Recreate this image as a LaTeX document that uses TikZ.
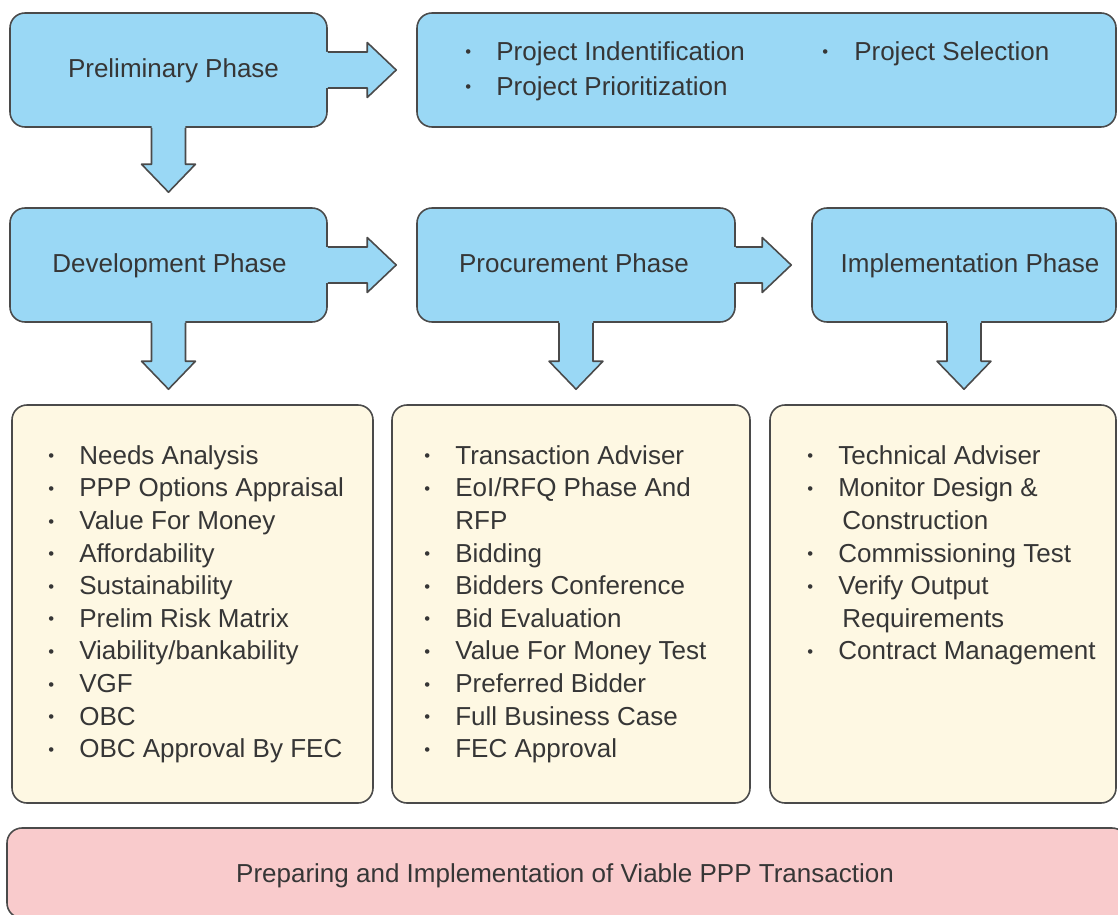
\documentclass[tikz,border=0pt]{standalone}
\usepackage{fontspec}
\setmainfont{Liberation Sans}
\usetikzlibrary{calc,fit}
\definecolor{bluef}{HTML}{9AD8F5}
\definecolor{creamf}{HTML}{FEF8E3}
\definecolor{pinkf}{HTML}{F9CBCC}
\definecolor{edgec}{HTML}{4A4A4A}
\definecolor{txtc}{HTML}{363636}
\newcommand\bul{\raisebox{1.4pt}{\fontsize{9.5}{9.5}\selectfont\textbullet}}
\newcommand\rarr[2]{%
 \fill[bluef] let \p1=(#1.east), \p2=(#2.west) in
  (\x1-1.5pt,\y1+0.36cm) -- (\x2-0.98cm,\y1+0.36cm) -- (\x2-0.98cm,\y1+0.55cm) -- (\x2-0.4cm,\y1)
  -- (\x2-0.98cm,\y1-0.55cm) -- (\x2-0.98cm,\y1-0.36cm) -- (\x1-1.5pt,\y1-0.36cm) -- cycle;
 \draw[arrline] let \p1=(#1.east), \p2=(#2.west) in
  (\x1,\y1+0.36cm) -- (\x2-0.98cm,\y1+0.36cm) -- (\x2-0.98cm,\y1+0.55cm) -- (\x2-0.4cm,\y1)
  -- (\x2-0.98cm,\y1-0.55cm) -- (\x2-0.98cm,\y1-0.36cm) -- (\x1,\y1-0.36cm);
}
\newcommand\darr[2]{%
 \fill[bluef] let \p1=(#1.south), \p2=(#2.north) in
  (\x1-0.34cm,\y1+1.5pt) -- (\x1-0.34cm,\y2+0.86cm) -- (\x1-0.54cm,\y2+0.86cm) -- (\x1,\y2+0.3cm)
  -- (\x1+0.54cm,\y2+0.86cm) -- (\x1+0.34cm,\y2+0.86cm) -- (\x1+0.34cm,\y1+1.5pt) -- cycle;
 \draw[arrline] let \p1=(#1.south), \p2=(#2.north) in
  (\x1-0.34cm,\y1) -- (\x1-0.34cm,\y2+0.86cm) -- (\x1-0.54cm,\y2+0.86cm) -- (\x1,\y2+0.3cm)
  -- (\x1+0.54cm,\y2+0.86cm) -- (\x1+0.34cm,\y2+0.86cm) -- (\x1+0.34cm,\y1);
}
\begin{document}
\begin{tikzpicture}[x=0.02cm,y=-0.02cm,
  font=\fontsize{14.8}{18.55}\selectfont, text=txtc,
  box/.style={rectangle, rounded corners=0.3cm, draw=edgec, line width=0.9pt, inner sep=0pt},
  phase/.style={box, fill=bluef},
  listbox/.style={box, fill=creamf},
  lbl/.style={inner sep=0pt, anchor=base},
  items/.style={inner sep=0pt, anchor=north west},
  arrline/.style={draw=edgec, line width=0.9pt, line join=round}]
\useasboundingbox (0,0) rectangle (1118,915);
\clip (0,0) rectangle (1118,915);

% phase boxes
\node[phase, fit={(10,13) (327,127)}] (prelim) {};
\node[box, fill=bluef, fit={(417,13) (1116,127)}] (top) {};
\node[phase, fit={(10,208) (327,322)}] (dev) {};
\node[phase, fit={(417,208) (735,322)}] (proc) {};
\node[phase, fit={(812,208) (1116,322)}] (impl) {};

% list boxes
\node[listbox, fit={(12,405) (373,803)}] (devbox) {};
\node[listbox, fit={(392,405) (750,803)}] (procbox) {};
\node[listbox, fit={(770,405) (1116,803)}] (implbox) {};
\node[box, fill=pinkf, fit={(7,828) (1127,918)}] (final) {};

% headings
\node[lbl] (prelimtxt) at ($(prelim.center)+(5,7.5)$) {Preliminary Phase};
\node[lbl] (devtxt) at ($(dev.center)+(1,7.5)$) {Development Phase};
\node[lbl] (proctxt) at ($(proc.center)+(-2,7.5)$) {Procurement Phase};
\node[lbl] (impltxt) at ($(impl.center)+(6,7.5)$) {Implementation Phase};
\node[lbl] (finaltxt) at ($(final.center)+(-2,9.5)$) {Preparing and Implementation of Viable PPP Transaction};

% arrows
\rarr{prelim}{top}
\darr{prelim}{dev}
\rarr{dev}{proc}
\rarr{proc}{impl}
\darr{dev}{devbox}
\darr{proc}{procbox}
\darr{impl}{implbox}

% texts
\node[items] (topitems) at (465,37) {\begin{tabular}{@{}p{0.62cm}@{}p{6.52cm}@{}p{0.64cm}@{}l@{}}
\bul & Project Indentification & \bul & Project Selection\\[1.35pt]
\bul & Project Prioritization & & \\
\end{tabular}};

\node[items] (devitems) at (48,441.2) {\begin{tabular}{@{}p{0.62cm}@{}l@{}}
\bul & Needs Analysis\\
\bul & PPP Options Appraisal\\
\bul & Value For Money\\
\bul & Affordability\\
\bul & Sustainability\\
\bul & Prelim Risk Matrix\\
\bul & Viability/bankability\\
\bul & VGF\\
\bul & OBC\\
\bul & OBC Approval By FEC\\
\end{tabular}};

\node[items] (procitems) at (424,441.2) {\begin{tabular}{@{}p{0.62cm}@{}l@{}}
\bul & Transaction Adviser\\
\bul & EoI/RFQ Phase And\\
 & RFP\\
\bul & Bidding\\
\bul & Bidders Conference\\
\bul & Bid Evaluation\\
\bul & Value For Money Test\\
\bul & Preferred Bidder\\
\bul & Full Business Case\\
\bul & FEC Approval\\
\end{tabular}};

\node[items] (implitems) at (807,441.2) {\begin{tabular}{@{}p{0.62cm}@{}l@{}}
\bul & Technical Adviser\\
\bul & Monitor Design \&\\
 & \hspace{2.3pt}Construction\\
\bul & Commissioning Test\\
\bul & Verify Output\\
 & \hspace{2.3pt}Requirements\\
\bul & Contract Management\\
\end{tabular}};
\end{tikzpicture}
\end{document}
